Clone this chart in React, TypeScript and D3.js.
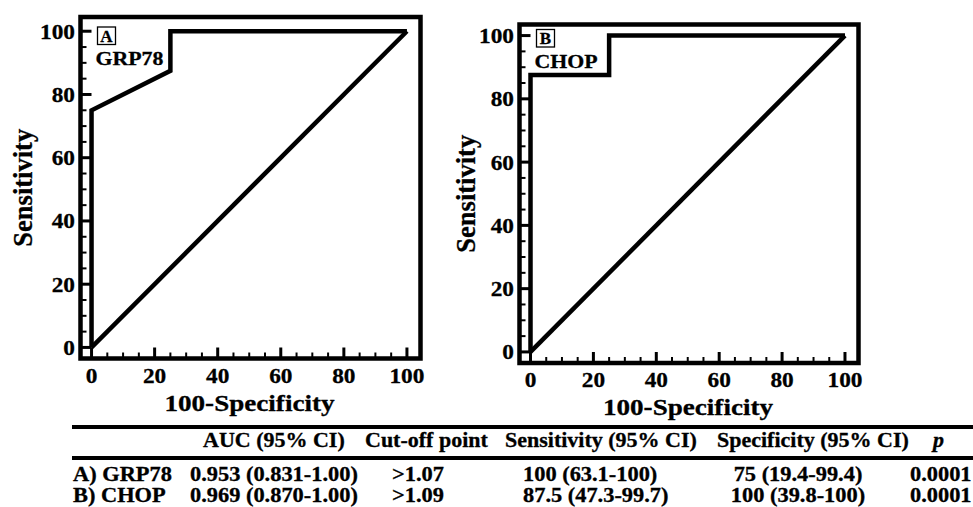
import * as d3 from "d3"

// ROC curve points (100-Specificity, Sensitivity)
const grp78Fpr = [0, 0, 25, 25, 100]
const grp78Tpr = [0, 75, 87.5, 100, 100]
const chopFpr = [0, 0, 25, 25, 100]
const chopTpr = [0, 87.5, 87.5, 100, 100]
const refFpr = [0, 100]
const refTpr = [0, 100]

const tickValues = d3.range(0, 101, 5)

// summary table
const tableHeaders = ["AUC (95% CI)", "Cut-off point", "Sensitivity (95% CI)", "Specificity (95% CI)", "p"]
const rowLabels = ["A) GRP78", "B) CHOP"]
const aucValues = ["0.953 (0.831-1.00)", "0.969 (0.870-1.00)"]
const cutoffValues = [">1.07", ">1.09"]
const sensValues = ["100 (63.1-100)", "87.5 (47.3-99.7)"]
const specValues = ["75 (19.4-99.4)", "100 (39.8-100)"]
const pValues = ["0.0001", "0.0001"]

const FONT = "'Liberation Serif', 'Times New Roman', serif"

function T({ x, y, size, sx = 1, anchor = "start", rotate = 0, italic = false, children }: any) {
  return (
    <text
      transform={`translate(${x},${y}) rotate(${rotate}) scale(${sx},1)`}
      fontSize={size}
      fontFamily={FONT}
      fontWeight="bold"
      fontStyle={italic ? "italic" : "normal"}
      textAnchor={anchor}
      fill="#000"
      stroke="#000"
      strokeWidth={0.3}
    >
      {children}
    </text>
  )
}

interface PanelProps {
  left: number
  right: number
  top: number
  bottom: number
  yMax: number
  fpr: number[]
  tpr: number[]
  letter: string
  name: string
  yTitleX: number
  labelTop: number
}

function RocPanel({ left, right, top, bottom, yMax, fpr, tpr, letter, name, yTitleX, labelTop }: PanelProps) {
  const x = d3.scaleLinear().domain([-3.5, 104.3]).range([left, right])
  const y = d3.scaleLinear().domain([-3.5, yMax]).range([bottom, top])

  const line = d3
    .line<[number, number]>()
    .x((d) => x(d[0]))
    .y((d) => y(d[1]))

  const roc = line(d3.zip(fpr, tpr) as [number, number][]) || ""
  const ref = line(d3.zip(refFpr, refTpr) as [number, number][]) || ""

  return (
    <g>
      {/* ticks, pointing inward */}
      {tickValues.map((v) => {
        const major = v % 20 === 0
        const len = major ? 11 : 6
        return (
          <g key={v}>
            <line x1={x(v)} x2={x(v)} y1={bottom} y2={bottom - len} stroke="#000" strokeWidth={major ? 3 : 2} />
            <line x1={left} x2={left + len} y1={y(v)} y2={y(v)} stroke="#000" strokeWidth={major ? 3 : 2} />
          </g>
        )
      })}

      {/* reference diagonal and ROC curve */}
      <path d={ref} fill="none" stroke="#000" strokeWidth={4.5} />
      <path d={roc} fill="none" stroke="#000" strokeWidth={4.5} />

      {/* frame */}
      <rect x={left} y={top} width={right - left} height={bottom - top} fill="none" stroke="#000" strokeWidth={4.5} />

      {/* tick labels */}
      {tickValues
        .filter((v) => v % 20 === 0)
        .map((v) => (
          <g key={"l" + v}>
            <T x={x(v)} y={bottom + 24} size={22} sx={1.06} anchor="middle">
              {v}
            </T>
            <T x={left - 5.5} y={y(v) + 7.5} size={22} sx={1.06} anchor="end">
              {v}
            </T>
          </g>
        ))}

      {/* axis titles */}
      <T x={(left + right) / 2 - 1} y={bottom + 52} size={24} sx={1.13} anchor="middle">
        100-Specificity
      </T>
      <T x={yTitleX} y={(top + bottom) / 2} size={26.5} anchor="middle" rotate={-90}>
        Sensitivity
      </T>

      {/* panel label */}
      <rect x={left + 17} y={labelTop} width={18} height={17.5} fill="#fff" stroke="#000" strokeWidth={1.3} />
      <T x={left + 26} y={labelTop + 14.5} size={17} anchor="middle">
        {letter}
      </T>
      <T x={left + 15} y={labelTop + 38} size={19.5} sx={1.12}>
        {name}
      </T>
    </g>
  )
}

export default function App() {
  const headerX = [203, 365, 505, 717, 933]
  const rowY = [481, 502]
  return (
    <div style={{ position: "absolute", left: 0, top: 0, background: "#fff" }}>
      <svg width={973} height={507} style={{ display: "block", background: "#fff" }}>
        <RocPanel
          left={80.5}
          right={420.5}
          top={17}
          bottom={358.5}
          yMax={104.5}
          fpr={grp78Fpr}
          tpr={grp78Tpr}
          letter="A"
          name="GRP78"
          yTitleX={31.5}
          labelTop={27}
        />
        <RocPanel
          left={519.5}
          right={858.5}
          top={24.5}
          bottom={363}
          yMax={103.5}
          fpr={chopFpr}
          tpr={chopTpr}
          letter="B"
          name="CHOP"
          yTitleX={475}
          labelTop={29.5}
        />

        {/* table */}
        <line x1={72} x2={973} y1={427} y2={427} stroke="#000" strokeWidth={4} />
        <line x1={72} x2={973} y1={458} y2={458} stroke="#000" strokeWidth={4} />
        {tableHeaders.map((h, i) => (
          <T key={h} x={headerX[i]} y={447} size={20} sx={1.1} italic={h === "p"}>
            {h}
          </T>
        ))}
        {rowLabels.map((lab, i) => (
          <g key={lab}>
            <T x={73} y={rowY[i]} size={20} sx={1.12}>
              {lab}
            </T>
            <T x={190} y={rowY[i]} size={20} sx={1.12}>
              {aucValues[i]}
            </T>
            <T x={392} y={rowY[i]} size={20} sx={1.12}>
              {cutoffValues[i]}
            </T>
            <T x={523} y={rowY[i]} size={20} sx={1.12}>
              {sensValues[i]}
            </T>
            <T x={798} y={rowY[i]} size={20} sx={1.12} anchor="middle">
              {specValues[i]}
            </T>
            <T x={910} y={rowY[i]} size={20} sx={1.12}>
              {pValues[i]}
            </T>
          </g>
        ))}
      </svg>
    </div>
  )
}
